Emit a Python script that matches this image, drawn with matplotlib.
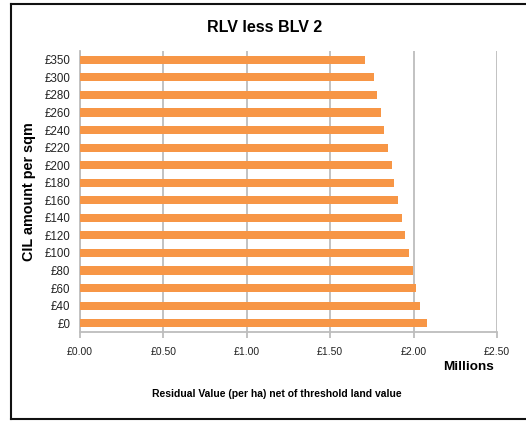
"""
RLV less BLV 2 - horizontal bar chart
"""

import matplotlib.pyplot as plt
from matplotlib.lines import Line2D
from matplotlib.ticker import FuncFormatter, MultipleLocator

plt.rcParams['font.family'] = ['Liberation Sans', 'DejaVu Sans']

# data (bottom to top)
cil_levels = ['£0', '£40', '£60', '£80', '£100', '£120', '£140', '£160',
              '£180', '£200', '£220', '£240', '£260', '£280', '£300', '£350']
residual_millions = [2.082, 2.040, 2.016, 1.998, 1.974, 1.950, 1.932, 1.908,
                     1.885, 1.869, 1.845, 1.821, 1.803, 1.779, 1.760, 1.707]

W, H = 526, 421
fig = plt.figure(figsize=(W / 100, H / 100), dpi=100)
ax = fig.add_axes([80 / W, 1 - 332 / H, 417 / W, 281 / H])

grid_col = '#bdbdbd'
ax.barh(range(len(cil_levels)), residual_millions, height=0.46,
        color='#F79646', zorder=3)

ax.set_xlim(0, 2.5)
ax.set_ylim(-0.5, len(cil_levels) - 0.5)
ax.xaxis.set_major_locator(MultipleLocator(0.5))
ax.xaxis.set_major_formatter(FuncFormatter(lambda v, p: f'£{v:.2f}'))
ax.set_yticks(range(len(cil_levels)))
ax.set_yticklabels(cil_levels)

ax.grid(axis='x', color=grid_col, linewidth=1.3, zorder=0)
for side in ['top', 'right']:
    ax.spines[side].set_visible(False)
for side in ['left', 'bottom']:
    ax.spines[side].set_color(grid_col)
    ax.spines[side].set_linewidth(1.3)
ax.tick_params(axis='x', length=4, width=1.3, color=grid_col, labelsize=7.5,
               pad=7, labelcolor='#222222')
ax.tick_params(axis='y', length=0, labelsize=8.3, pad=7, labelcolor='#222222')

fig.text(265 / W, 1 - 27 / H, 'RLV less BLV 2', ha='center', va='center',
         fontsize=11.5, fontweight='bold')
fig.text(469 / W, 1 - 367 / H, 'Millions', ha='center', va='center',
         fontsize=9.7, fontweight='bold')
fig.text(277 / W, 1 - 394 / H,
         'Residual Value (per ha) net of threshold land value',
         ha='center', va='center', fontsize=7.5, fontweight='bold')
fig.text(29 / W, 1 - 192 / H, 'CIL amount per sqm', ha='center', va='center',
         rotation=90, fontsize=10.4, fontweight='bold')

# outer chart border (right edge runs off the image)
x0, y_top, y_bot = 10.5 / W, 1 - 3.5 / H, 1 - 418.5 / H
border = dict(transform=fig.transFigure, color='#111111', linewidth=1.5)
fig.lines.extend([
    Line2D([x0, 1.01], [y_top, y_top], **border),
    Line2D([x0, 1.01], [y_bot, y_bot], **border),
    Line2D([x0, x0], [y_bot, y_top], **border),
])

fig.savefig('out.png', dpi=100, facecolor='white')
